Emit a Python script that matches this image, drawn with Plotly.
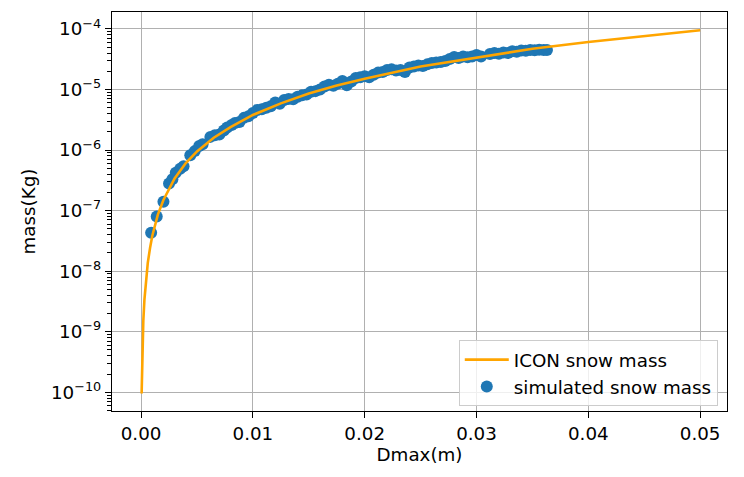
import plotly.graph_objects as go

# ICON snow mass-dimension relation, sampled along Dmax
icon_dmax = [0.00005, 0.0001, 0.00015, 0.0002, 0.0003, 0.0004, 0.0006, 0.0008,
             0.001, 0.0015, 0.002, 0.003, 0.004, 0.005, 0.0065, 0.008, 0.01,
             0.0125, 0.015, 0.0175, 0.02, 0.025, 0.03, 0.035, 0.04, 0.045, 0.05]
icon_mass = [9.5e-11, 3.8e-10, 8.6e-10, 1.5e-9, 3.4e-9, 6.1e-9, 1.37e-8, 2.4e-8,
             3.8e-8, 8.6e-8, 1.5e-7, 3.4e-7, 6.1e-7, 9.5e-7, 1.6e-6, 2.4e-6, 3.8e-6,
             5.9e-6, 8.6e-6, 1.16e-5, 1.5e-5, 2.4e-5, 3.4e-5, 4.7e-5, 6.1e-5, 7.7e-5, 9.5e-5]

# Simulated snow particles
sim_dmax = [0.0009, 0.0014, 0.0020, 0.0025, 0.0028, 0.0031, 0.0035, 0.0038, 0.0044,
            0.0048, 0.0052, 0.0055, 0.0062, 0.0066, 0.0070, 0.0074, 0.0077, 0.0081,
            0.0084, 0.0088, 0.0092, 0.0096, 0.0100, 0.0104, 0.0108, 0.0112, 0.0116,
            0.0120, 0.0124, 0.0128, 0.0132, 0.0136, 0.0140, 0.0144, 0.0148, 0.0152,
            0.0156, 0.0160, 0.0164, 0.0168, 0.0172, 0.0176, 0.0180, 0.0184, 0.0188,
            0.0192, 0.0196, 0.0200, 0.0204, 0.0208, 0.0212, 0.0216, 0.0220, 0.0224,
            0.0228, 0.0232, 0.0236, 0.0240, 0.0244, 0.0248, 0.0252, 0.0256, 0.0260,
            0.0264, 0.0268, 0.0272, 0.0276, 0.0280, 0.0284, 0.0288, 0.0292, 0.0296,
            0.0300, 0.0304, 0.0312, 0.0316, 0.0320, 0.0324, 0.0328, 0.0332, 0.0336,
            0.0340, 0.0344, 0.0348, 0.0352, 0.0356, 0.0360, 0.0363]
sim_mass = [4.3e-8, 8.0e-8, 1.4e-7, 2.8e-7, 3.3e-7, 4.2e-7, 4.9e-7, 5.4e-7, 8.2e-7,
            9.6e-7, 1.17e-6, 1.25e-6, 1.65e-6, 1.75e-6, 1.8e-6, 2.1e-6, 2.35e-6, 2.6e-6,
            2.8e-6, 2.9e-6, 3.4e-6, 3.6e-6, 4.1e-6, 4.6e-6, 4.7e-6, 5.0e-6, 5.3e-6,
            6.1e-6, 5.8e-6, 6.7e-6, 7.0e-6, 6.9e-6, 7.6e-6, 8.0e-6, 8.3e-6, 9.2e-6,
            9.4e-6, 1.0e-5, 1.12e-5, 1.2e-5, 1.15e-5, 1.25e-5, 1.38e-5, 1.18e-5, 1.35e-5,
            1.55e-5, 1.6e-5, 1.65e-5, 1.6e-5, 1.75e-5, 1.9e-5, 1.95e-5, 2.1e-5, 2.15e-5,
            2.05e-5, 2.1e-5, 1.95e-5, 2.3e-5, 2.4e-5, 2.5e-5, 2.45e-5, 2.6e-5, 2.75e-5,
            2.8e-5, 2.85e-5, 2.95e-5, 3.2e-5, 3.45e-5, 3.3e-5, 3.5e-5, 3.4e-5, 3.5e-5,
            3.7e-5, 3.5e-5, 3.85e-5, 4.0e-5, 3.9e-5, 4.1e-5, 4.0e-5, 4.3e-5, 4.2e-5,
            4.4e-5, 4.35e-5, 4.5e-5, 4.45e-5, 4.55e-5, 4.5e-5, 4.5e-5]

y_tick_exp = [-10, -9, -8, -7, -6, -5, -4]
x_ticks = [0.00, 0.01, 0.02, 0.03, 0.04, 0.05]

FONT = "DejaVu Sans"
FS = 18.3

fig = go.Figure()
fig.add_trace(go.Scatter(
    x=sim_dmax, y=sim_mass, mode="markers", name="simulated snow mass",
    marker=dict(color="#1f77b4", size=12, line=dict(width=0)),
    legendrank=2,
))
fig.add_trace(go.Scatter(
    x=icon_dmax, y=icon_mass, mode="lines", name="ICON snow mass",
    line=dict(color="#FFA500", width=2.6),
    legendrank=1,
))

axis_common = dict(
    showline=True, linecolor="black", linewidth=1.3, mirror=True,
    showgrid=True, gridcolor="#b0b0b0", gridwidth=1.3,
    ticks="outside", ticklen=6, tickwidth=1.3, tickcolor="black",
    zeroline=False,
    tickfont=dict(family=FONT, size=FS, color="black"),
)

fig.update_xaxes(
    **axis_common,
    range=[-0.0026, 0.0524],
    tickvals=x_ticks, ticktext=[f"{v:.2f}" for v in x_ticks],
    title=dict(text="Dmax(m)", font=dict(family=FONT, size=FS, color="black"), standoff=4),
)
fig.update_yaxes(
    **axis_common,
    type="log",
    range=[-10.31, -3.72],
    tickvals=[10.0 ** e for e in y_tick_exp],
    ticktext=[f"10<sup>\u2212{-e}</sup>" for e in y_tick_exp],
    minor=dict(ticks="outside", ticklen=3.5, tickwidth=1, tickcolor="black",
               dtick="D1", showgrid=False),
    title=dict(text="mass(Kg)", font=dict(family=FONT, size=FS, color="black"), standoff=10),
)

fig.update_layout(
    width=744, height=477,
    margin=dict(l=112, r=17, t=12, b=66),
    paper_bgcolor="white", plot_bgcolor="white",
    font=dict(family=FONT, size=FS, color="black"),
    showlegend=True,
    legend=dict(
        x=0.985, y=0.012, xanchor="right", yanchor="bottom",
        bgcolor="rgba(255,255,255,0.8)", bordercolor="#cccccc", borderwidth=1,
        font=dict(family=FONT, size=FS, color="black"),
        itemwidth=44,
    ),
)

fig.write_html("out.html")
